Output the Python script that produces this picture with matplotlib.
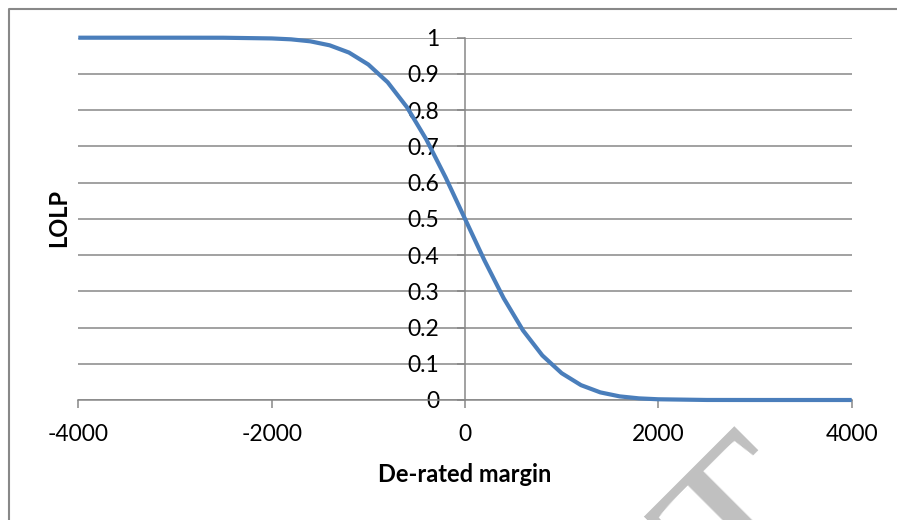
import matplotlib
matplotlib.use("Agg")
import matplotlib.pyplot as plt
from matplotlib.lines import Line2D

# values
margin = [-4000, -3000, -2500, -2000, -1800, -1600, -1400, -1200, -1000, -800,
          -600, -400, -200, 0, 200, 400, 600, 800, 1000, 1200, 1400, 1600,
          1800, 2000, 2500, 3000, 4000]
lolp = [1.0, 1.0, 0.9999, 0.998, 0.9955, 0.990, 0.979, 0.959, 0.926, 0.877,
        0.808, 0.719, 0.614, 0.5, 0.386, 0.281, 0.192, 0.123, 0.074, 0.041,
        0.021, 0.010, 0.0045, 0.002, 0.0001, 0.0, 0.0]

x_ticks = [-4000, -2000, 0, 2000, 4000]
y_ticks = [0, 0.1, 0.2, 0.3, 0.4, 0.5, 0.6, 0.7, 0.8, 0.9, 1]

GRID = "#878787"
BLUE = "#4a7ebb"
plt.rcParams["font.family"] = ["Lato", "DejaVu Sans"]

W, H = 897, 520
fig = plt.figure(figsize=(W / 100, H / 100), dpi=100)
ax = fig.add_axes([78.3 / W, 1 - 400 / H, (851.7 - 78.3) / W, (400 - 37.7) / H])

ax.spines["top"].set_visible(False)
ax.spines["right"].set_visible(False)
ax.spines["left"].set_position(("data", 0))
for s in ("left", "bottom"):
    ax.spines[s].set_color(GRID)
    ax.spines[s].set_linewidth(1.1)

ax.plot(margin, lolp, color=BLUE, lw=3.0, clip_on=False, zorder=5,
        solid_capstyle="butt", solid_joinstyle="round")
ax.set_xlim(-4000, 4000)
ax.set_ylim(0, 1)

ax.set_xticks(x_ticks)
ax.set_xticklabels([str(v) for v in x_ticks])
ax.set_yticks(y_ticks)
ax.set_yticklabels([f"{v:g}" for v in y_ticks])

ax.tick_params(axis="x", direction="out", length=5.8, width=1.1, color=GRID,
               pad=11.5, labelsize=16.5)
ax.tick_params(axis="y", direction="out", length=5.8, width=1.1, color=GRID,
               pad=12.9, labelsize=16.5)
ax.yaxis.grid(True, color=GRID, lw=1.1)
ax.set_axisbelow(True)

fig.text(59 / W, 1 - 218 / H, "LOLP", rotation=90, ha="center", va="center",
         fontsize=17, fontweight="bold")
fig.text(465 / W, 1 - 475 / H, "De-rated margin", ha="center", va="center",
         fontsize=17, fontweight="bold")

# outer chart border (only left and top edges are inside the crop)
fig.add_artist(Line2D([8.5 / W, 8.5 / W, 1.0], [0.0, 1 - 8.5 / H, 1 - 8.5 / H],
                      transform=fig.transFigure, color="#888888", lw=1.5))

# watermark letter at the bottom
fig.text(682 / W, 1 - 462 / H, "T", family="Liberation Serif", fontsize=160,
         rotation=45, rotation_mode="anchor", ha="center", va="top",
         color="#c0c0c0", zorder=0)

fig.savefig("out.png", dpi=100)
